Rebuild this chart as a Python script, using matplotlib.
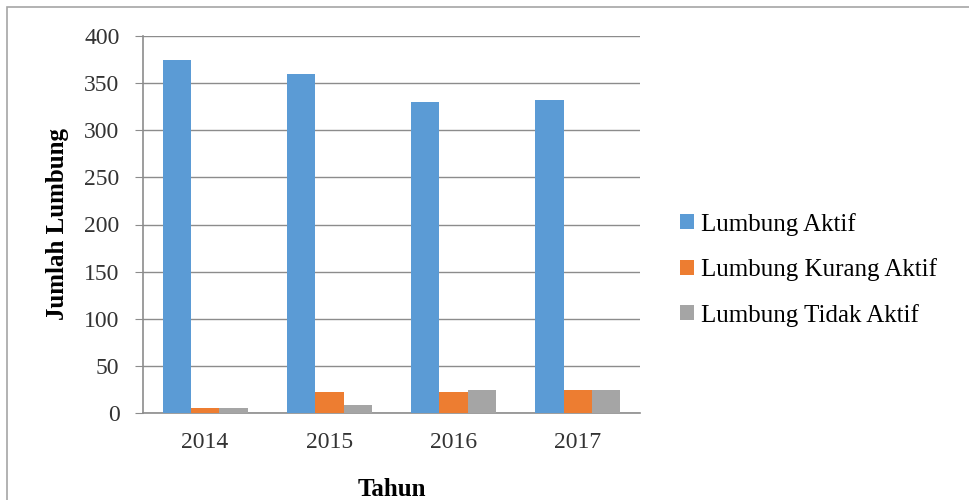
import matplotlib.pyplot as plt
import numpy as np
from matplotlib.patches import Rectangle

# Data
tahun = ['2014', '2015', '2016', '2017']
lumbung_aktif = [375, 360, 330, 332]
lumbung_kurang_aktif = [5, 22, 22, 24]
lumbung_tidak_aktif = [5, 9, 24, 24]

seri = ['Lumbung Aktif', 'Lumbung Kurang Aktif', 'Lumbung Tidak Aktif']
warna = ['#5B9BD5', '#ED7D31', '#A5A5A5']

plt.rcParams['font.family'] = ['Liberation Serif', 'DejaVu Serif']

fig = plt.figure(figsize=(9.7, 5.0), dpi=100)
ax = fig.add_axes([143 / 970, 1 - 413 / 500, (640 - 143) / 970, (413 - 36) / 500])

x = np.arange(len(tahun))
lebar = 0.228
for i, (nilai, nama) in enumerate(zip([lumbung_aktif, lumbung_kurang_aktif, lumbung_tidak_aktif], seri)):
    ax.bar(x + (i - 1) * lebar, nilai, lebar, color=warna[i], label=nama, zorder=3)

ax.set_xlim(-0.5, len(tahun) - 0.5)
ax.set_ylim(0, 400)
ax.set_yticks(range(0, 401, 50))
ax.set_xticks(x)
ax.set_xticklabels(tahun)
ax.grid(axis='y', color='#8C8C8C', linewidth=1.0, zorder=0)

for s in ['top', 'right']:
    ax.spines[s].set_visible(False)
ax.spines['left'].set_color('#8C8C8C')
ax.spines['bottom'].set_color('#8C8C8C')
ax.spines['left'].set_linewidth(1.2)
ax.spines['bottom'].set_linewidth(1.2)
ax.tick_params(axis='y', length=6, color='#8C8C8C', labelsize=17, pad=11)
ax.tick_params(axis='x', length=0, labelsize=17, pad=14)
for t in ax.get_xticklabels() + ax.get_yticklabels():
    t.set_color('#333333')

ax.set_ylabel('Jumlah Lumbung', fontsize=18, fontweight='bold')
ax.set_xlabel('Tahun', fontsize=18, fontweight='bold')
ax.yaxis.set_label_coords(-0.149, 0.5)
ax.xaxis.set_label_coords(0.5, -0.172)

ax.legend(loc='center left', bbox_to_anchor=(1.06, 0.38), frameon=False,
          fontsize=18, handlelength=0.55, handleheight=0.55, handletextpad=0.3,
          labelspacing=0.9, borderaxespad=0.0)

# frame around the whole chart
fig.patches.append(Rectangle((7 / 970, -0.01), 1.0, 1 - 7 / 500 + 0.01,
                             transform=fig.transFigure, fill=False,
                             edgecolor='#A6A6A6', linewidth=1.2))

plt.savefig('out.png')
plt.close()
